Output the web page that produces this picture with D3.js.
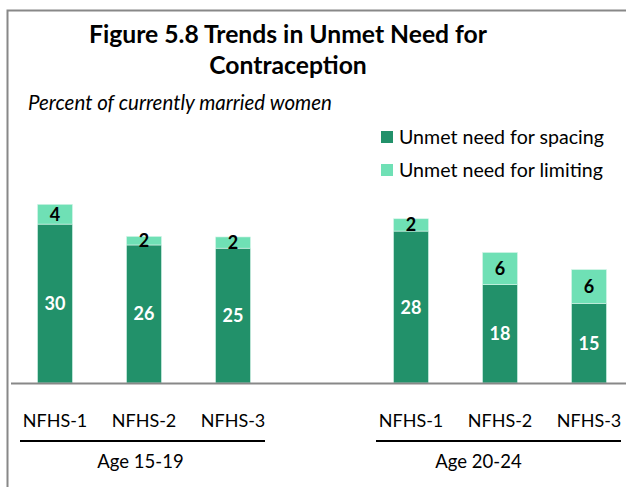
<!DOCTYPE html>
<html>
<head>
<meta charset="utf-8">
<script src="https://cdn.jsdelivr.net/npm/d3@7"></script>
<style>
  body { margin: 0; background: #fff; }
  text { font-family: Lato, "Liberation Sans", sans-serif; }
</style>
</head>
<body>
<div id="chart"></div>
<script>
// data
const groups = ["Age 15-19", "Age 20-24"]
const surveys = ["NFHS-1", "NFHS-2", "NFHS-3"]
const spacing = [29.7, 25.8, 25.2, 28.4, 18.4, 14.9]
const limiting = [3.7, 1.6, 2.1, 2.3, 6.0, 6.3]
const seriesNames = ["Unmet need for spacing", "Unmet need for limiting"]
const colors = ["#22916a", "#6fe0b5"]

const W = 626, H = 487

const svg = d3.select("#chart")
    .append("svg")
    .attr("width", W)
    .attr("height", H)

// frame (top + left only, right side is cut off)
svg.append("path")
    .attr("d", `M7.5,${H} V10.5 H${W}`)
    .attr("fill", "none")
    .attr("stroke", "#888")
    .attr("stroke-width", 2)

// title
svg.append("text")
    .attr("x", 288).attr("y", 43)
    .attr("text-anchor", "middle")
    .style("font-size", "24.7px").style("font-weight", "bold")
    .text("Figure 5.8 Trends in Unmet Need for")
svg.append("text")
    .attr("x", 288).attr("y", 74)
    .attr("text-anchor", "middle")
    .style("font-size", "24.7px").style("font-weight", "bold")
    .text("Contraception")

svg.append("text")
    .attr("x", 28).attr("y", 110)
    .style("font-size", "20.5px").style("font-style", "italic")
    .text("Percent of currently married women")

// slots: 3 bars, empty slot, 3 bars
const rows = []
groups.forEach((g, gi) => surveys.forEach((s, si) => {
    const i = gi * 3 + si
    rows.push({ key: g + "|" + s, group: g, survey: s, spacing: spacing[i], limiting: limiting[i] })
}))
const slots = [rows[0].key, rows[1].key, rows[2].key, "gap", rows[3].key, rows[4].key, rows[5].key]

const x = d3.scaleBand()
    .domain(slots)
    .range([10.5, 633.5])
    .paddingInner(0.607)
    .paddingOuter(0.3035)
const cx = k => x(k) + x.bandwidth() / 2

const y = d3.scaleLinear()
    .domain([0, 40])
    .range([383, 383 - 40 * 5.35])

const stack = d3.stack().keys(["spacing", "limiting"])
const layers = stack(rows)

const layer = svg.append("g")
    .selectAll("g")
    .data(layers)
    .join("g")
    .attr("fill", (d, i) => colors[i])

layer.selectAll("rect")
    .data(d => d)
    .join("rect")
    .attr("x", d => x(d.data.key))
    .attr("width", x.bandwidth())
    .attr("y", d => y(d[1]))
    .attr("height", d => y(d[0]) - y(d[1]))
    .attr("stroke", "#d8f5ea")
    .attr("stroke-width", 0.6)

// value labels
layer.selectAll("text")
    .data((d, i) => d.map(v => ({ v: v, i: i })))
    .join("text")
    .attr("x", d => cx(d.v.data.key))
    .attr("y", d => (y(d.v[0]) + y(d.v[1])) / 2)
    .attr("dy", "0.36em")
    .attr("text-anchor", "middle")
    .style("font-size", "18px").style("font-weight", "bold")
    .attr("fill", d => d.i === 0 ? "#fff" : "#000")
    .text(d => d3.format(".0f")(d.v[1] - d.v[0]))

// baseline
svg.append("line")
    .attr("x1", 11).attr("x2", W)
    .attr("y1", y(0) + 0.5).attr("y2", y(0) + 0.5)
    .attr("stroke", "#888")
    .attr("stroke-width", 2)

// category labels
svg.append("g")
    .selectAll("text")
    .data(rows)
    .join("text")
    .attr("x", d => cx(d.key))
    .attr("y", 426.5)
    .attr("text-anchor", "middle")
    .style("font-size", "18px")
    .text(d => d.survey)

const groupDx = [-2, -20]
groups.forEach((g, gi) => {
    const keys = rows.filter(r => r.group === g).map(r => r.key)
    const x0 = cx(keys[0]) - 35, x1 = cx(keys[2]) + 32
    svg.append("line")
        .attr("x1", x0).attr("x2", x1)
        .attr("y1", 441).attr("y2", 441)
        .attr("stroke", "#000")
        .attr("stroke-width", 2)
    svg.append("text")
        .attr("x", (x0 + x1) / 2 + groupDx[gi])
        .attr("y", 467.5)
        .attr("text-anchor", "middle")
        .style("font-size", "18.5px")
        .text(g)
})

// legend
const legend = svg.append("g")
    .selectAll("g")
    .data(seriesNames)
    .join("g")
    .attr("transform", (d, i) => `translate(381,${131 + i * 33})`)
legend.append("rect")
    .attr("width", 12).attr("height", 12)
    .attr("fill", (d, i) => colors[i])
legend.append("text")
    .attr("x", 18).attr("y", 12.5)
    .style("font-size", "19.6px")
    .text(d => d)
</script>
</body>
</html>
